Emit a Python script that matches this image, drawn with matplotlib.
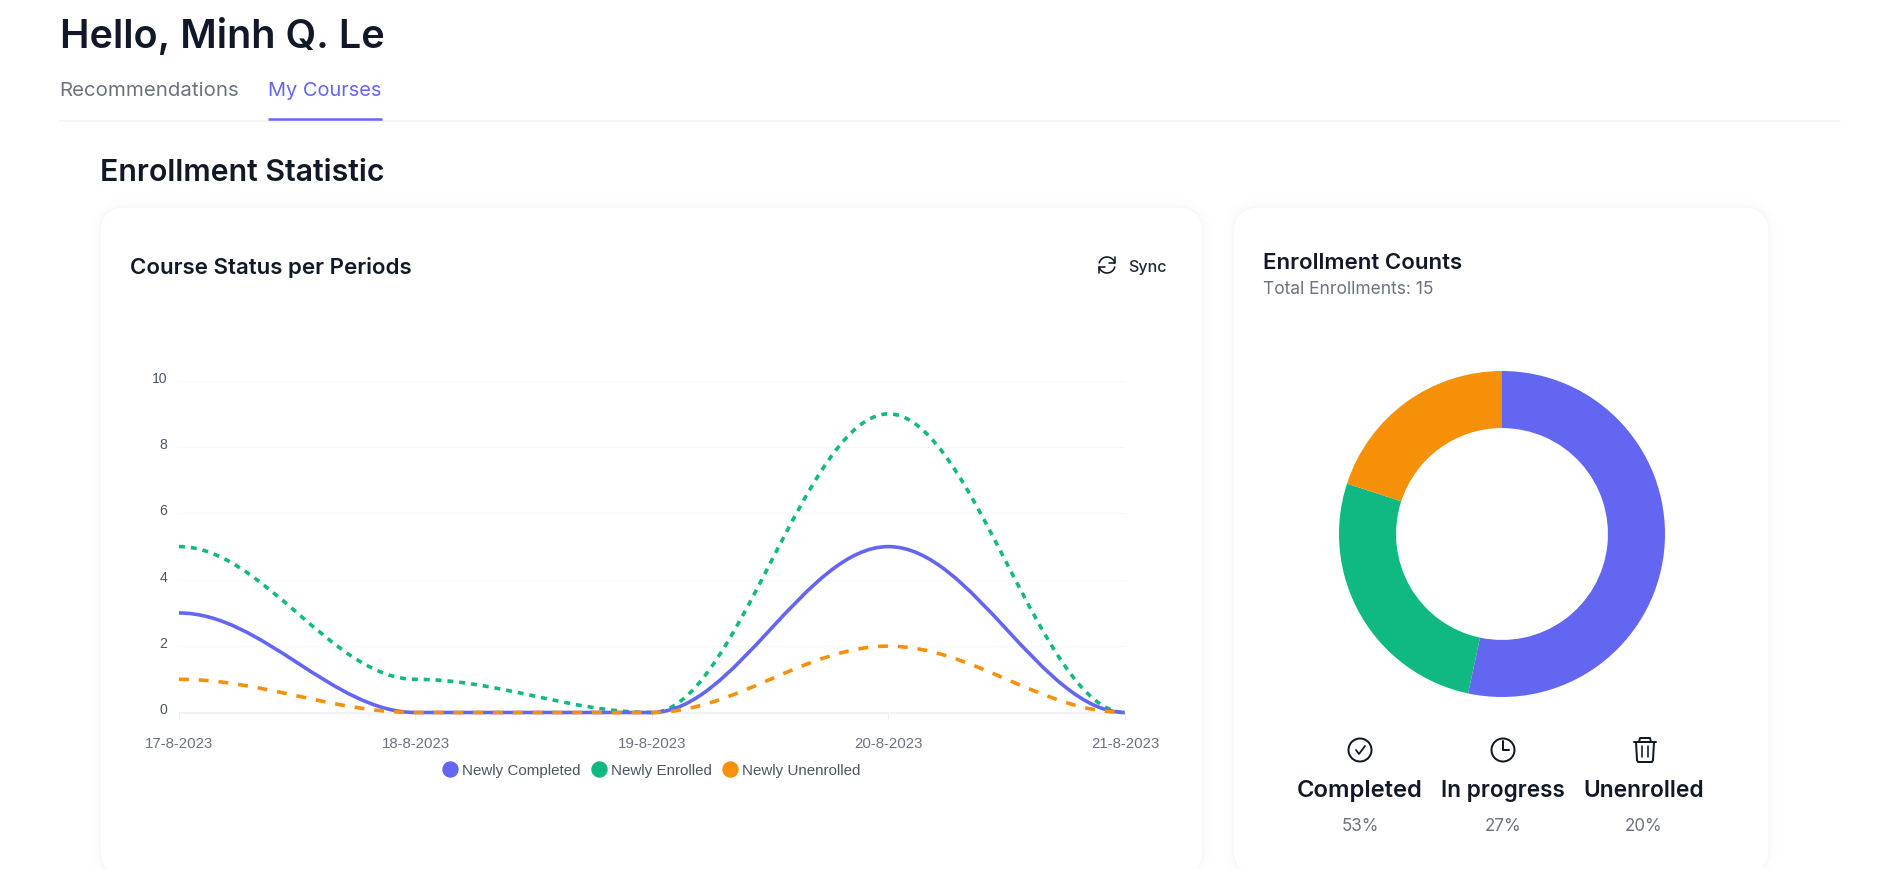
import numpy as np
import matplotlib
matplotlib.use('Agg')
import matplotlib.pyplot as plt
from matplotlib.lines import Line2D
from matplotlib.patches import Circle, FancyBboxPatch, PathPatch
from matplotlib.path import Path
from matplotlib.transforms import ScaledTranslation

W, H = 1899, 870

# Line chart data
dates = ['17-8-2023', '18-8-2023', '19-8-2023', '20-8-2023', '21-8-2023']
newly_completed = [3, 0, 0, 5, 0]
newly_enrolled = [5, 1, 0, 9, 0]
newly_unenrolled = [1, 0, 0, 2, 0]
y_ticks = [0, 2, 4, 6, 8, 10]

# Donut data
status_names = ['Completed', 'In progress', 'Unenrolled']
status_counts = [8, 4, 3]
status_labels = ['53%', '27%', '20%']

PURPLE = '#6366f1'
GREEN = '#10b981'
ORANGE = '#f59008'
DARK = '#111827'
GRAY = '#6b7280'


def px(v):
    # pixels to points
    return v * 72 / 100


def rect(x0, y0, x1, y1):
    # pixel box (top-left origin) to figure fractions
    return [x0 / W, 1 - y1 / H, (x1 - x0) / W, (y1 - y0) / H]


def smooth_patch(xs, ys, **kw):
    # bezier through the points with flat tangents, like the web chart
    verts = [(xs[0], ys[0])]
    codes = [Path.MOVETO]
    for i in range(len(xs) - 1):
        step = (xs[i + 1] - xs[i]) * 0.35
        verts += [(xs[i] + step, ys[i]), (xs[i + 1] - step, ys[i + 1]), (xs[i + 1], ys[i + 1])]
        codes += [Path.CURVE4] * 3
    return PathPatch(Path(verts, codes), fill=False, clip_on=False, capstyle='butt', **kw)


fig = plt.figure(figsize=(W / 100, H / 100), dpi=100, facecolor='white')

# Page layer in pixel coordinates
page = fig.add_axes([0, 0, 1, 1])
page.set_xlim(0, W)
page.set_ylim(H, 0)
page.axis('off')


def heading(x, y, s, size, color=DARK, weight=600, ha='left'):
    page.text(x, y, s, fontsize=px(size), color=color, fontweight=weight, ha=ha, va='center',
              family='Inter')


def stroke(xs, ys, lw=2, color=DARK):
    page.plot(xs, ys, color=color, lw=px(lw), solid_capstyle='round', solid_joinstyle='round')


def arc(cx, cy, r, a0, a1, lw=2, color=DARK):
    a = np.radians(np.linspace(a0, a1, 40))
    stroke(cx + r * np.cos(a), cy - r * np.sin(a), lw, color)


# Header
heading(60, 37, 'Hello, Minh Q. Le', 39.6)
heading(59.5, 91, 'Recommendations', 20.4, GRAY, 400)
heading(268, 91, 'My Courses', 20, PURPLE, 400)
page.plot([60, 1840], [121.5, 121.5], color='#f1f3f5', lw=px(1.5))
page.plot([268, 382], [120, 120], color=PURPLE, lw=px(2.5), solid_capstyle='butt')
heading(100, 173, 'Enrollment Statistic', 30.3)

# Cards with a faint shadow
for x0, x1 in [(100, 1203), (1233, 1769)]:
    for grow, alpha in [(10, 0.004), (6, 0.005), (3, 0.007)]:
        page.add_patch(FancyBboxPatch((x0 - grow, 208 - grow), x1 - x0 + 2 * grow, 668 + 2 * grow,
                                      boxstyle='round,pad=0,rounding_size=%d' % (26 + grow),
                                      fc='#000000', ec='none', alpha=alpha))
    page.add_patch(FancyBboxPatch((x0, 208), x1 - x0, 668,
                                  boxstyle='round,pad=0,rounding_size=26',
                                  fc='white', ec='#f6f6f8', lw=px(1)))

heading(130, 268, 'Course Status per Periods', 22.3)
heading(1128, 268, 'Sync', 16, '#1f2937', 500)
heading(1263, 263, 'Enrollment Counts', 22.3)
heading(1263, 290, 'Total Enrollments: 15', 17.4, GRAY, 400)

# Sync icon
arc(1107, 266, 8, 15, 165, 1.6)
arc(1107, 266, 8, 195, 345, 1.6)
stroke([1115, 1115, 1109], [258, 264, 264], 1.6)
stroke([1099, 1099, 1105], [274, 268, 268], 1.6)

# Check icon
page.add_patch(Circle((1360, 751), 11.5, fill=False, ec=DARK, lw=px(2)))
stroke([1356, 1359, 1365], [751, 755, 747], 1.8)
# Clock icon
page.add_patch(Circle((1503, 751), 11.5, fill=False, ec=DARK, lw=px(2)))
stroke([1503, 1503, 1509], [742, 751, 751], 2)
# Trash icon
stroke([1634, 1656], [743, 743], 2)
stroke([1639, 1640, 1650, 1651], [743, 739, 739, 743], 2)
stroke([1636, 1637, 1638, 1652, 1653, 1654], [743, 761, 763, 763, 761, 743], 2)
stroke([1642, 1642], [747, 758], 1.6)
stroke([1648, 1648], [747, 758], 1.6)

# Labels under the donut
for cx, name, pct, size in zip([1360, 1503, 1644], status_names, status_labels, [23.8, 22.6, 22.8]):
    heading(cx, 791, name, size, ha='center')
    heading(cx, 827, pct, 17, GRAY, 400, ha='center')

# Line chart
ax = fig.add_axes(rect(179, 381.7, 1125, 713.5))
ax.patch.set_alpha(0)
x = np.arange(len(dates))
ax.set_xlim(0, len(dates) - 1)
ax.set_ylim(0, 10)
ax.add_patch(smooth_patch(x, newly_enrolled, ec=GREEN, lw=px(3.6), ls=(0, (1.65, 1.65)), zorder=3))
ax.add_patch(smooth_patch(x, newly_completed, ec=PURPLE, lw=px(3.6), zorder=4))
ax.add_patch(smooth_patch(x, newly_unenrolled, ec=ORANGE, lw=px(3.6), ls=(0, (2.75, 2.75)), zorder=5))

for side in ['top', 'left', 'right']:
    ax.spines[side].set_visible(False)
ax.spines['bottom'].set_color('#eceef2')
ax.spines['bottom'].set_linewidth(px(1.5))
ax.set_yticks(y_ticks)
ax.set_xticks(x)
ax.set_xticklabels(dates)
ax.grid(axis='y', color='#f2f3f5', lw=px(1), ls=(0, (2, 2)))
ax.set_axisbelow(True)
ax.tick_params(axis='y', length=0, pad=px(12), labelsize=px(14), labelcolor='#4b5563')
ax.tick_params(axis='x', length=px(7), width=px(1), color='#eceef2', pad=px(17),
               labelsize=px(15), labelcolor=GRAY)
for lab in ax.get_xticklabels() + ax.get_yticklabels():
    lab.set_family('Liberation Sans')
for lab in ax.get_yticklabels():
    lab.set_transform(lab.get_transform() + ScaledTranslation(0, 4.5 / 100, fig.dpi_scale_trans))

handles = [Line2D([], [], ls='none', marker='o', ms=px(15), color=c)
           for c in [PURPLE, GREEN, ORANGE]]
ax.legend(handles, ['Newly Completed', 'Newly Enrolled', 'Newly Unenrolled'], ncol=3, frameon=False,
          loc='center', bbox_to_anchor=(651 / W, 1 - 771.5 / H), bbox_transform=fig.transFigure,
          handletextpad=0.25, columnspacing=0.68, handlelength=1.1, borderpad=0,
          prop={'family': 'Liberation Sans', 'size': px(15.1)}, labelcolor='#4b5563')

# Donut
donut = fig.add_axes(rect(1339, 372, 1665, 698))
donut.pie(status_counts, colors=[PURPLE, GREEN, ORANGE], startangle=90, counterclock=False,
          radius=1, wedgeprops={'width': 0.35, 'ec': 'none'})
donut.set_xlim(-1, 1)
donut.set_ylim(-1, 1)

fig.savefig('out.png', dpi=100)
